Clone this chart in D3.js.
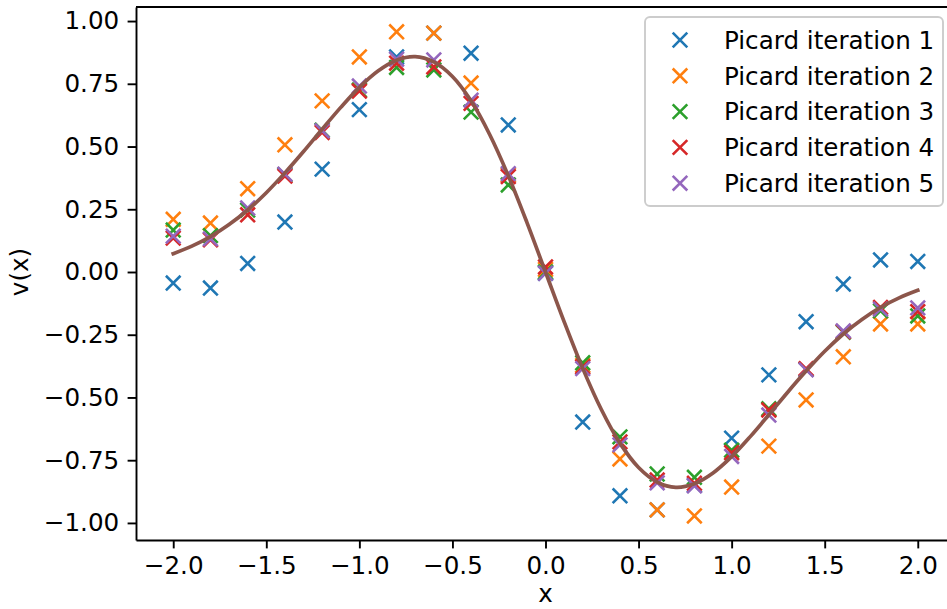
<!DOCTYPE html>
<html>
<head>
<meta charset="utf-8">
<script src="https://cdn.jsdelivr.net/npm/d3@7"></script>
<style>
  body { margin: 0; background: #fff; }
  svg { display: block; font-family: "DejaVu Sans", sans-serif; }
</style>
</head>
<body>
<script>
// sample points of each Picard iteration
var xValues = [-2.0, -1.8, -1.6, -1.4, -1.2, -1.0, -0.8, -0.6, -0.4, -0.2, 0.0,
               0.2, 0.4, 0.6, 0.8, 1.0, 1.2, 1.4, 1.6, 1.8, 2.0];
var iter1 = [-0.044, -0.064, 0.034, 0.199, 0.41, 0.647, 0.857, 0.952, 0.872, 0.586, -0.005,
             -0.598, -0.892, -0.948, -0.85, -0.662, -0.41, -0.198, -0.048, 0.048, 0.042];
var iter2 = [0.21, 0.195, 0.332, 0.507, 0.682, 0.857, 0.957, 0.952, 0.753, 0.386, 0.01,
             -0.372, -0.745, -0.948, -0.972, -0.857, -0.694, -0.51, -0.338, -0.207, -0.207];
var iter3 = [0.167, 0.145, 0.247, 0.388, 0.565, 0.725, 0.815, 0.805, 0.637, 0.347, 0.0,
             -0.362, -0.657, -0.805, -0.818, -0.71, -0.545, -0.388, -0.24, -0.155, -0.175];
var iter4 = [0.135, 0.128, 0.228, 0.382, 0.556, 0.721, 0.832, 0.817, 0.672, 0.38, 0.02,
             -0.378, -0.677, -0.829, -0.842, -0.72, -0.55, -0.385, -0.238, -0.141, -0.158];
var iter5 = [0.143, 0.132, 0.255, 0.39, 0.563, 0.741, 0.848, 0.845, 0.685, 0.392, -0.005,
             -0.385, -0.689, -0.84, -0.852, -0.735, -0.57, -0.39, -0.235, -0.148, -0.143];
var seriesNames = ["Picard iteration 1", "Picard iteration 2", "Picard iteration 3",
                   "Picard iteration 4", "Picard iteration 5"];

// the solid reference curve, read every 0.1
var curveX = [-2.0, -1.9, -1.8, -1.7, -1.6, -1.5, -1.4, -1.3, -1.2, -1.1, -1.0,
              -0.9, -0.8, -0.7, -0.6, -0.5, -0.4, -0.3, -0.2, -0.1, 0.0,
              0.1, 0.2, 0.3, 0.4, 0.5, 0.6, 0.7, 0.8, 0.9, 1.0,
              1.1, 1.2, 1.3, 1.4, 1.5, 1.6, 1.7, 1.8, 1.9, 2.0];
var curveY = [0.073, 0.103, 0.141, 0.189, 0.247, 0.316, 0.395, 0.480, 0.569, 0.656, 0.736,
              0.801, 0.844, 0.858, 0.837, 0.779, 0.682, 0.548, 0.384, 0.198, 0.0,
              -0.198, -0.384, -0.548, -0.682, -0.779, -0.837, -0.858, -0.844, -0.801, -0.736,
              -0.656, -0.569, -0.480, -0.395, -0.316, -0.247, -0.189, -0.141, -0.103, -0.073];

var xTicks = [-2.0, -1.5, -1.0, -0.5, 0.0, 0.5, 1.0, 1.5, 2.0];
var yTicks = [-1.0, -0.75, -0.5, -0.25, 0.0, 0.25, 0.5, 0.75, 1.0];

var colors = ["#1f77b4", "#ff7f0e", "#2ca02c", "#d62728", "#9467bd"];
var lineColor = "#8c564b";

function drawChart() {
    var w = 947, h = 609;
    var left = 136, right = 955, top = 7, bottom = 540;
    var fs = 24.6;

    var svg = d3.select("body")
                .append("svg")
                .attr("width", w)
                .attr("height", h);

    var x = d3.scaleLinear().domain([-2.2, 2.2]).range([left, right]);
    var y = d3.scaleLinear().domain([-1.068, 1.056]).range([bottom, top]);

    var series = [iter1, iter2, iter3, iter4, iter5];
    var hs = 7.3;
    var cross = "M" + (-hs) + "," + (-hs) + "L" + hs + "," + hs +
                "M" + (-hs) + "," + hs + "L" + hs + "," + (-hs);

    series.forEach(function(vals, i) {
        svg.append("g")
           .selectAll("path")
           .data(vals)
           .enter().append("path")
           .attr("d", cross)
           .attr("transform", function(d, j) {
               return "translate(" + x(xValues[j]) + "," + y(d) + ")"; })
           .attr("stroke", colors[i])
           .attr("stroke-width", 2.6)
           .attr("fill", "none");
    });

    var line = d3.line()
                 .x(function(d, i) { return x(curveX[i]); })
                 .y(function(d) { return y(d); })
                 .curve(d3.curveCatmullRom);

    svg.append("path")
       .datum(curveY)
       .attr("d", line)
       .attr("fill", "none")
       .attr("stroke", lineColor)
       .attr("stroke-width", 3.7)
       .attr("stroke-linecap", "square");

    // axes
    var xAxis = svg.append("g")
                   .attr("transform", "translate(0," + bottom + ")")
                   .call(d3.axisBottom(x).tickValues(xTicks).tickFormat(d3.format(".1f"))
                           .tickSize(8.4).tickPadding(8.4).tickSizeOuter(0));
    var yAxis = svg.append("g")
                   .attr("transform", "translate(" + left + ",0)")
                   .call(d3.axisLeft(y).tickValues(yTicks).tickFormat(d3.format(".2f"))
                           .tickSize(8.4).tickPadding(8.4).tickSizeOuter(0));

    [xAxis, yAxis].forEach(function(a) {
        a.selectAll("path.domain").attr("stroke", "#000").attr("stroke-width", 1.9);
        a.selectAll(".tick line").attr("stroke", "#000").attr("stroke-width", 1.9);
        a.selectAll(".tick text").attr("fill", "#000")
         .style("font-size", fs + "px").style("font-family", "DejaVu Sans");
    });

    svg.append("line")
       .attr("x1", left).attr("x2", right)
       .attr("y1", top).attr("y2", top)
       .attr("stroke", "#000").attr("stroke-width", 1.9);
    svg.append("line")
       .attr("x1", right).attr("x2", right)
       .attr("y1", top).attr("y2", bottom)
       .attr("stroke", "#000").attr("stroke-width", 1.9);

    svg.append("text")
       .attr("x", x(0))
       .attr("y", 602)
       .attr("text-anchor", "middle")
       .style("font-size", fs + "px")
       .text("x");

    svg.append("text")
       .attr("transform", "translate(28," + y(0) + ") rotate(-90)")
       .attr("text-anchor", "middle")
       .style("font-size", fs + "px")
       .text("v(x)");

    // legend
    var lg = svg.append("g");
    lg.append("rect")
      .attr("x", 645).attr("y", 17)
      .attr("width", 298).attr("height", 189)
      .attr("rx", 5)
      .attr("fill", "#fff").attr("fill-opacity", 0.8)
      .attr("stroke", "#cccccc").attr("stroke-width", 1.9);

    var rows = lg.selectAll("g.row")
                 .data(seriesNames)
                 .enter().append("g")
                 .attr("transform", function(d, i) {
                     return "translate(0," + (40 + i * 35.8) + ")"; });
    rows.append("path")
        .attr("d", cross)
        .attr("transform", "translate(680,0)")
        .attr("stroke", function(d, i) { return colors[i]; })
        .attr("stroke-width", 2.6)
        .attr("fill", "none");
    rows.append("text")
        .attr("x", 724)
        .attr("dy", "0.36em")
        .style("font-size", fs + "px")
        .text(function(d) { return d; });
}

drawChart();
</script>
</body>
</html>
